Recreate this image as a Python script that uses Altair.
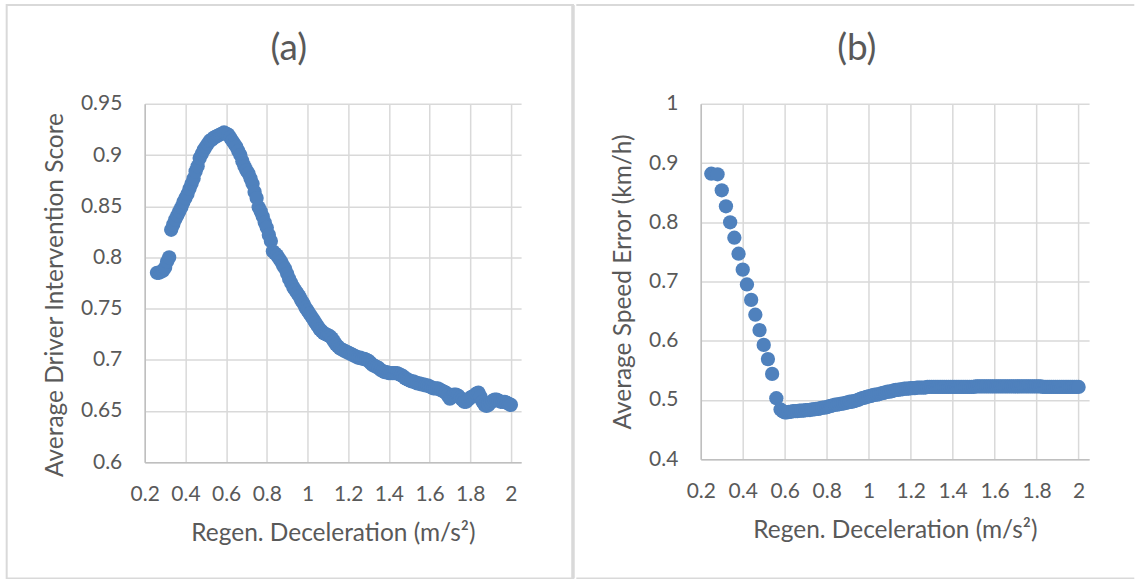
import altair as alt
import pandas as pd

# ---------------- data ----------------
# (a) Average Driver Intervention Score, x from 0.26 to 2.00 in steps of 0.01
a_y = [
    0.785, 0.785, 0.786, 0.787, 0.790, 0.796, 0.800, 0.827, 0.832, 0.837,
    0.841, 0.845, 0.849, 0.854, 0.858, 0.862, 0.867, 0.872, 0.877, 0.884,
    0.889, 0.897, 0.901, 0.905, 0.908, 0.911, 0.914, 0.915, 0.917, 0.918,
    0.919, 0.920, 0.921, 0.922, 0.921, 0.920, 0.917, 0.914, 0.911, 0.908,
    0.904, 0.900, 0.894, 0.889, 0.885, 0.882, 0.877, 0.872, 0.864, 0.858,
    0.849, 0.845, 0.840, 0.834, 0.829, 0.822, 0.816, 0.806, 0.804, 0.802,
    0.799, 0.796, 0.792, 0.789, 0.784, 0.779, 0.775, 0.771, 0.768, 0.765,
    0.762, 0.758, 0.755, 0.751, 0.748, 0.745, 0.742, 0.739, 0.736, 0.733,
    0.730, 0.728, 0.726, 0.725, 0.724, 0.723, 0.721, 0.718, 0.715, 0.713,
    0.711, 0.710, 0.709, 0.708, 0.707, 0.706, 0.705, 0.704, 0.703, 0.702,
    0.702, 0.701, 0.701, 0.700, 0.699, 0.697, 0.695, 0.694, 0.693, 0.692,
    0.690, 0.689, 0.688, 0.688, 0.687, 0.687, 0.687, 0.687, 0.687, 0.686,
    0.685, 0.684, 0.682, 0.681, 0.680, 0.679, 0.679, 0.678, 0.677, 0.677,
    0.676, 0.676, 0.675, 0.675, 0.674, 0.673, 0.672, 0.672, 0.672, 0.671,
    0.670, 0.669, 0.668, 0.665, 0.662, 0.664, 0.666, 0.666, 0.665, 0.663,
    0.661, 0.659, 0.659, 0.661, 0.663, 0.664, 0.665, 0.667, 0.668, 0.664,
    0.659, 0.656, 0.655, 0.656, 0.658, 0.660, 0.661, 0.661, 0.660, 0.659,
    0.659, 0.659, 0.658, 0.657, 0.656,
]
a_x = [round(0.26 + 0.01 * i, 2) for i in range(len(a_y))]

# (b) Average Speed Error (km/h)
b_steep_x = [0.25, 0.28, 0.30, 0.32, 0.34, 0.36, 0.38, 0.40,
             0.42, 0.44, 0.46, 0.48, 0.50, 0.52, 0.54, 0.56]
b_steep_y = [0.882, 0.881, 0.854, 0.827, 0.800, 0.774, 0.747, 0.720,
             0.695, 0.669, 0.644, 0.618, 0.593, 0.569, 0.544, 0.503]
# x from 0.58 to 2.00 in steps of 0.01
b_flat_y = [
    0.484, 0.481, 0.479, 0.479, 0.480, 0.480, 0.481, 0.481, 0.481, 0.482,
    0.482, 0.482, 0.483, 0.483, 0.483, 0.484, 0.484, 0.485, 0.485, 0.486,
    0.487, 0.487, 0.488, 0.489, 0.490, 0.491, 0.492, 0.492, 0.493, 0.494,
    0.494, 0.495, 0.496, 0.497, 0.497, 0.498, 0.499, 0.500, 0.502, 0.503,
    0.504, 0.505, 0.506, 0.507, 0.508, 0.509, 0.509, 0.510, 0.511, 0.512,
    0.513, 0.514, 0.514, 0.515, 0.516, 0.517, 0.517, 0.518, 0.518, 0.519,
    0.519, 0.519, 0.520, 0.520, 0.520, 0.521, 0.521, 0.521, 0.521, 0.521,
    0.522, 0.522, 0.522, 0.522, 0.522, 0.522, 0.522, 0.522, 0.522, 0.522,
    0.522, 0.522, 0.522, 0.522, 0.522, 0.522, 0.522, 0.522, 0.522, 0.522,
    0.522, 0.522, 0.522, 0.523, 0.523, 0.523, 0.523, 0.523, 0.523, 0.523,
    0.523, 0.523, 0.523, 0.523, 0.523, 0.523, 0.523, 0.523, 0.523, 0.523,
    0.523, 0.523, 0.523, 0.523, 0.523, 0.523, 0.523, 0.523, 0.523, 0.523,
    0.523, 0.523, 0.523, 0.523, 0.523, 0.522, 0.522, 0.522, 0.522, 0.522,
    0.522, 0.522, 0.522, 0.522, 0.522, 0.522, 0.522, 0.522, 0.522, 0.522,
    0.522, 0.522, 0.522,
]
b_x = b_steep_x + [round(0.58 + 0.01 * i, 2) for i in range(len(b_flat_y))]
b_y = b_steep_y + b_flat_y

x_ticks = [0.2, 0.4, 0.6, 0.8, 1.0, 1.2, 1.4, 1.6, 1.8, 2.0]
a_y_ticks = [0.6, 0.65, 0.7, 0.75, 0.8, 0.85, 0.9, 0.95]
b_y_ticks = [0.4, 0.5, 0.6, 0.7, 0.8, 0.9, 1.0]

titles = ["(a)", "(b)"]
x_title = "Regen. Deceleration (m/s²)"
y_titles = ["Average Driver Intervention Score", "Average Speed Error (km/h)"]

# ---------------- style ----------------
FONT = "Lato"
TXT = "#595959"
BLUE = "#4F81BD"
GRID = "#d9d9d9"
AXISLINE = "#bfbfbf"
FRAME = "#d9d9d9"
LABEL_SIZE = 21
TITLE_SIZE = 24.5
HEAD_SIZE = 37

one = pd.DataFrame({"k": [0]})


def axis(vals, title, is_x, title_y=None):
    extra = {} if title_y is None else {"titleY": title_y}
    return alt.Axis(
        values=vals, format="~g", title=title, grid=True, gridColor=GRID,
        gridWidth=1.5, domainColor=AXISLINE, domainWidth=1.5, ticks=False,
        tickSize=0, labelFont=FONT, labelFontSize=LABEL_SIZE, labelColor=TXT,
        titleFont=FONT, titleFontSize=TITLE_SIZE, titleColor=TXT,
        titleFontWeight="normal",
        labelPadding=21 if is_x else 23, titlePadding=17 if is_x else 13,
        labelFlush=False, labelOverlap=False, **extra,
    )


def panel(xs, ys, ydom, yticks, ytitle, head, W, H, head_x, decor, title_y=None):
    df = pd.DataFrame({"x": xs, "y": ys})
    pts = alt.Chart(df).mark_circle(size=205, color=BLUE, opacity=1).encode(
        x=alt.X("x:Q", scale=alt.Scale(domain=[0.2, 2.05], nice=False, zero=False),
                axis=axis(x_ticks, x_title, True)),
        y=alt.Y("y:Q", scale=alt.Scale(domain=ydom, nice=False, zero=False),
                axis=axis(yticks, ytitle, False, title_y)),
    )
    txt = alt.Chart(one).mark_text(
        font=FONT, fontSize=HEAD_SIZE, color=TXT, align="center", baseline="middle"
    ).encode(x=alt.value(head_x), y=alt.value(-55), text=alt.value(head))
    return alt.layer(*decor(), pts, txt).properties(width=W, height=H)


def decor_a():
    rect = alt.Chart(one).mark_rect(
        fillOpacity=0, stroke=FRAME, strokeWidth=2
    ).encode(x=alt.value(-138.3), x2=alt.value(429), y=alt.value(-99), y2=alt.value(475.5))
    mid = alt.Chart(one).mark_rule(color=FRAME, strokeWidth=3.5).encode(
        x=alt.value(429), y=alt.value(-99), y2=alt.value(475.5))
    return [rect, mid]


def decor_b():
    top = alt.Chart(one).mark_rule(color=FRAME, strokeWidth=2).encode(
        x=alt.value(-124.65), x2=alt.value(434.3), y=alt.value(-99))
    bot = alt.Chart(one).mark_rule(color=FRAME, strokeWidth=2).encode(
        x=alt.value(-124.65), x2=alt.value(434.3), y=alt.value(475.5))
    return [top, bot]


pa = panel(a_x, a_y, [0.6, 0.95], a_y_ticks, y_titles[0], titles[0], 377, 359, 144.3,
           decor_a, title_y=191)
pb = panel(b_x, b_y, [0.4, 1.0], b_y_ticks, y_titles[1], titles[1], 389, 356, 156.3, decor_b)

chart = alt.hconcat(pa, pb, spacing=0).properties(
    padding={"left": 5, "top": 2.5, "right": 0, "bottom": 0},
    background="white",
).configure_view(strokeWidth=0)

chart.save("out.html", embed_options={"renderer": "svg", "actions": False})
